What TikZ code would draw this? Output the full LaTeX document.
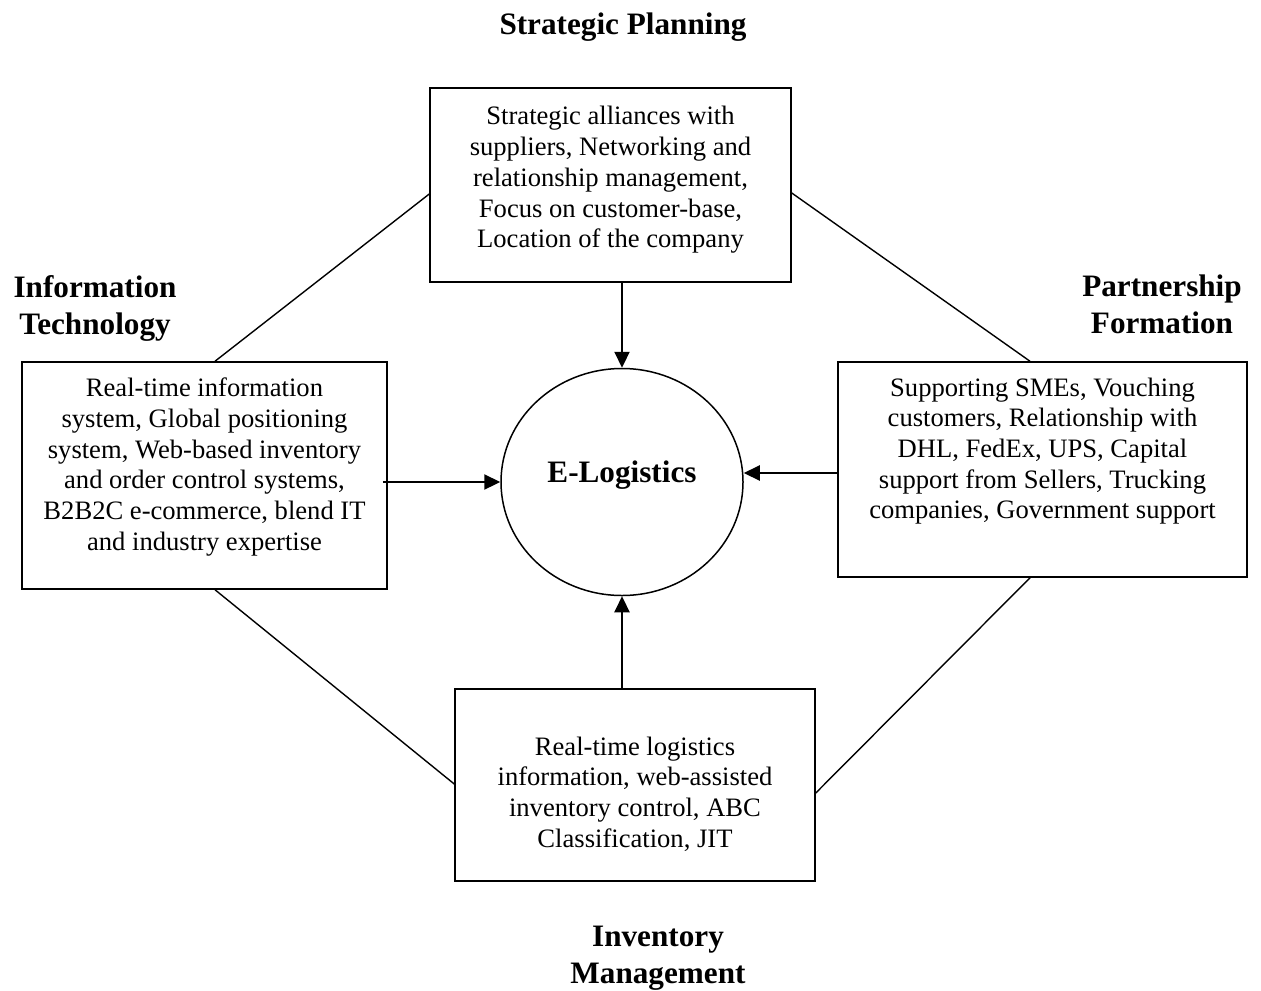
\documentclass[tikz,border=0pt]{standalone}
\usepackage{fontspec}
\setmainfont{Liberation Serif}
\usetikzlibrary{shapes.geometric,arrows.meta}
\begin{document}
\begin{tikzpicture}[x=0.5pt,y=-0.5pt,
  box/.style={draw, line width=0.75pt, rectangle, inner sep=0pt},
  body/.style={inner sep=0pt, align=center, font=\fontsize{13.3pt}{15.35pt}\selectfont},
  head/.style={inner sep=0pt, align=center, font=\fontsize{15.6pt}{18.5pt}\selectfont\bfseries},
  arr/.style={line width=1.1pt, -{Triangle[length=8pt,width=7.5pt]}},
  link/.style={line width=0.7pt}]
\useasboundingbox (0,0) rectangle (1261,990);
% boxes
\node[box, minimum width=180.5pt, minimum height=97pt] (top) at (610.5,185) {};
\node[box, minimum width=182.5pt, minimum height=113.5pt] (left) at (204.5,475.5) {};
\node[box, minimum width=204.5pt, minimum height=107.5pt] (right) at (1042.5,469.5) {};
\node[box, minimum width=180pt, minimum height=96pt] (bot) at (635,785) {};
\node[draw, line width=0.75pt, ellipse, minimum width=121pt, minimum height=113.5pt, inner sep=0pt] (ell) at (622,482) {};
% texts
\node[body] (ttop) at (610.5,180) {Strategic alliances with\\suppliers, Networking and\\relationship management,\\Focus on customer-base,\\Location of the company};
\node[body] (tleft) at (204.5,467) {Real-time information\\system, Global positioning\\system, Web-based inventory\\and order control systems,\\B2B2C e-commerce, blend IT\\and industry expertise};
\node[body] (tright) at (1042.5,451) {Supporting SMEs, Vouching\\customers, Relationship with\\DHL, FedEx, UPS, Capital\\support from Sellers, Trucking\\companies, Government support};
\node[body] (tbot) at (635,794) {Real-time logistics\\information, web-assisted\\inventory control, ABC\\Classification, JIT};
\node[head] (tell) at (622,475) {E-Logistics};
% headings
\node[head] (hsp) at (623,27) {Strategic Planning};
\node[head] (hit) at (95,308.5) {Information\\Technology};
\node[head] (hpf) at (1162,304.5) {Partnership\\Formation};
\node[head] (him) at (658,958) {Inventory\\Management};
% arrows
\draw[arr] (ell.north |- top.south) -- (ell.north);
\draw[arr] (ell.south |- bot.north) -- (ell.south);
\coordinate (ls) at ([xshift=-2.5pt]left.east |- ell.west);
\draw[arr] (ls) -- (ell.west);
\coordinate (rs) at ([yshift=-1.75pt]right.west);
\draw[arr] (rs) -- (ell.east |- rs);
% links
\draw[link] ([xshift=5.25pt]left.north) -- ([yshift=-4.5pt]top.west);
\draw[link] ([yshift=-4pt]top.east) -- ([xshift=-6.25pt]right.north);
\draw[link] ([xshift=5.25pt]left.south) -- ([yshift=0.5pt]bot.west);
\draw[link] ([xshift=-6.25pt]right.south) -- ([yshift=-4pt]bot.east);
\end{tikzpicture}
\end{document}
